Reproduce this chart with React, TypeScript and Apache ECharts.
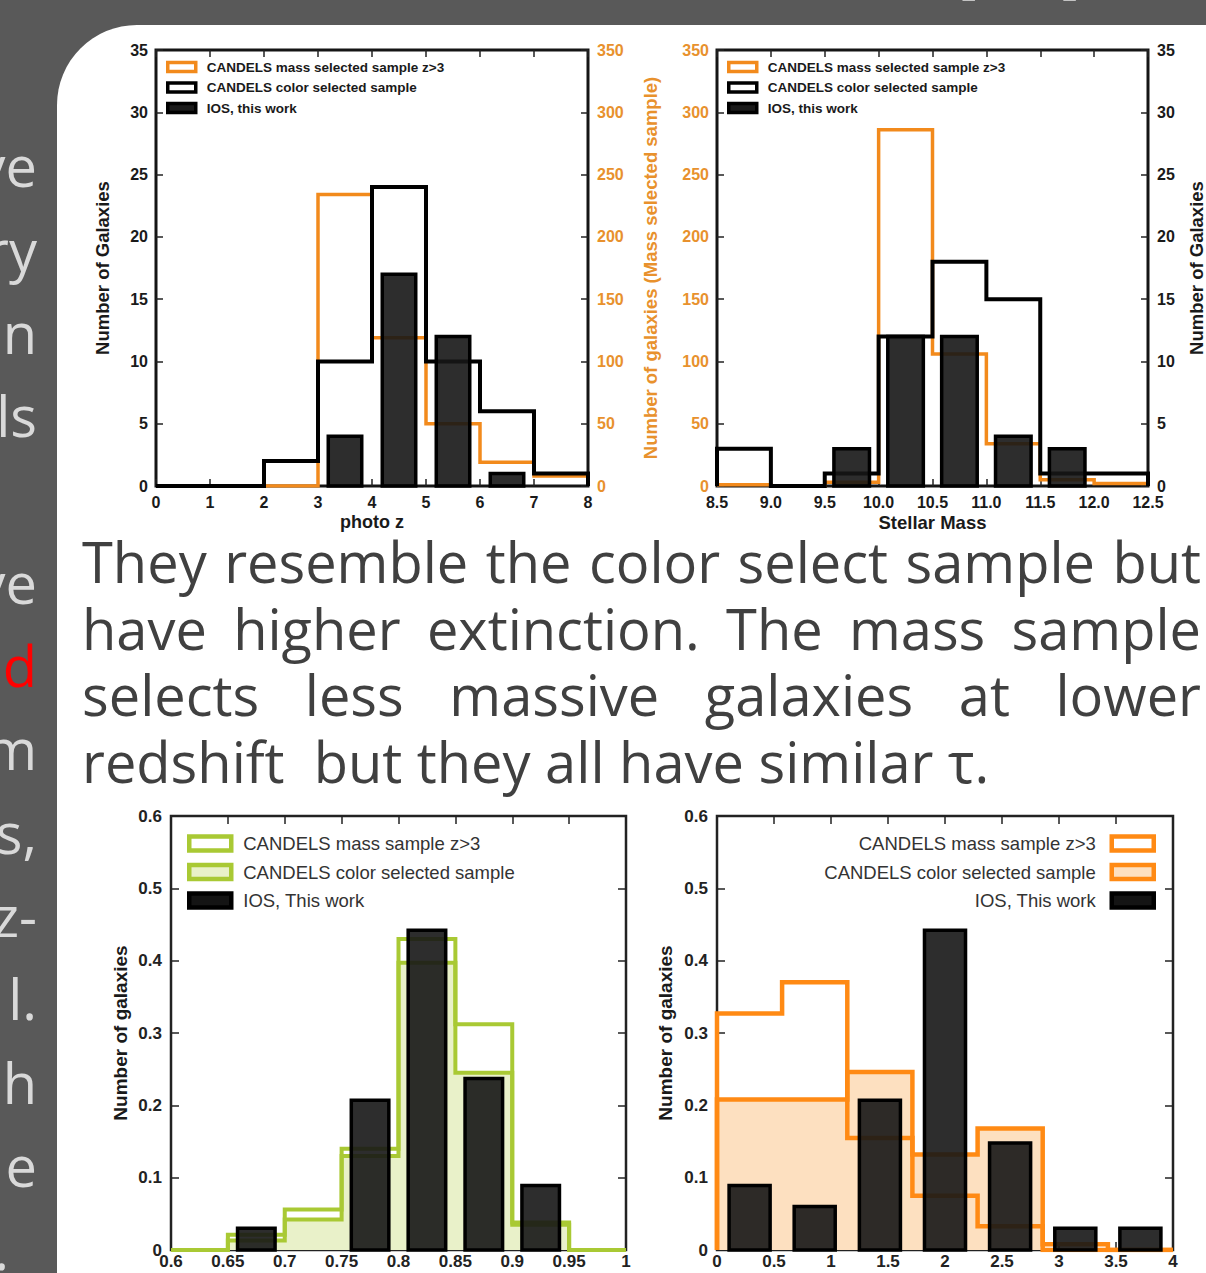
import React, { useEffect, useRef } from 'react';
import * as echarts from 'echarts';

// ---------------- data ----------------
// Top-left: photo z histograms
const photoZEdges = [0, 1, 2, 3, 4, 5, 6, 7, 8];
const photoZColorCounts = [0, 0, 2, 10, 24, 10, 6, 1];
const photoZMassEdges = [2, 3, 4, 5, 6, 7, 8];
const photoZMassCounts = [0, 234, 119, 50, 19, 8];
const photoZIosCenters = [3.5, 4.5, 5.5, 6.5];
const photoZIosCounts = [4, 17, 12, 1];

// Top-right: stellar mass histograms
const massEdges = [8.5, 9.0, 9.5, 10.0, 10.5, 11.0, 11.5, 12.0, 12.5];
const massMassCounts = [1, 0, 3, 286, 106, 34, 5, 2];
const massColorCounts = [3, 0, 1, 12, 18, 15, 1, 1];
const massIosCenters = [9.75, 10.25, 10.75, 11.25, 11.75];
const massIosCounts = [3, 12, 12, 4, 3];

// Bottom-left
const extEdges = [0.6, 0.65, 0.7, 0.75, 0.8, 0.85, 0.9, 0.95, 1.0];
const extMassFrac = [0, 0.021, 0.056, 0.14, 0.43, 0.312, 0.038, 0];
const extColorFrac = [0, 0.013, 0.042, 0.13, 0.397, 0.245, 0.035, 0];
const extIosCenters = [0.675, 0.775, 0.825, 0.875, 0.925];
const extIosFrac = [0.03, 0.207, 0.442, 0.237, 0.089];

// Bottom-right
const tauEdges = [0, 0.571, 1.143, 1.714, 2.286, 2.857, 3.429, 4.0];
const tauMassFrac = [0.327, 0.37, 0.155, 0.075, 0.033, 0.008, 0];
const tauColorFrac = [0.208, 0.208, 0.246, 0.132, 0.168, 0, 0];
const tauIosCenters = [0.286, 0.857, 1.429, 2.0, 2.571, 3.143, 3.714];
const tauIosFrac = [0.089, 0.06, 0.207, 0.442, 0.148, 0.03, 0.03];

// Series names
const topNames = ['CANDELS mass selected sample z>3', 'CANDELS color selected sample', 'IOS, this work'];
const botNames = ['CANDELS mass sample z>3', 'CANDELS color selected sample', 'IOS, This work'];

// Slide texts
const paragraphLines = [
  'They resemble the color select sample but',
  'have higher extinction. The mass sample',
  'selects less massive galaxies at lower',
  'redshift  but they all have similar τ.',
];
const paragraphJustified = [true, true, true, false];
const sideFragments = ['ve', 'ry', 'n', 'ls', '', 've', 'd', 'm', 's,', 'z-', 'l.', 'h', 'e', '.'];
const sideFragmentRed = [false, false, false, false, false, false, true, false, false, false, false, false, false, false];
const titleFragments = ['[', ',', ']'];

// ---------------- styling constants ----------------
const W = 1206;
const H = 1273;
const FONT = '"Liberation Sans", Arial, sans-serif';
const SLIDE_FONT = '"Open Sans", sans-serif';
const DARK = '#1a1a1a';
const ORANGE = '#f28a1c';
const ORANGE_TXT = '#e8912d';
const GREEN = '#a9c934';
const GREEN_FILL = '#e9f1c9';
const ORANGE2 = '#ff8a14';
const ORANGE2_FILL = '#fde0c0';
const BAR_FILL = 'rgba(22,22,22,0.9)';

function stepData(edges: number[], vals: number[]) {
  const pts: number[][] = [[edges[0], 0]];
  vals.forEach((v, i) => pts.push([edges[i], v]));
  pts.push([edges[edges.length - 1], vals[vals.length - 1]]);
  pts.push([edges[edges.length - 1], 0]);
  return pts;
}

function barRender(w: number, lw: number) {
  return (params: any, api: any) => {
    const c = api.value(0);
    const v = api.value(1);
    const tl = api.coord([c - w / 2, v]);
    const br = api.coord([c + w / 2, 0]);
    return {
      type: 'rect',
      shape: { x: tl[0], y: tl[1], width: br[0] - tl[0], height: br[1] - tl[1] },
      style: { fill: BAR_FILL, stroke: '#000', lineWidth: lw },
    };
  };
}

function axisCommon(grid: number, min: number, max: number, interval: number, pos: string, o: any) {
  return {
    type: 'value',
    gridIndex: grid,
    min,
    max,
    interval,
    position: pos,
    axisLine: { show: false, onZero: false },
    splitLine: { show: false },
    axisTick: { show: true, inside: true, length: o.tickLen, lineStyle: { color: '#222', width: 1.5 } },
    axisLabel: o.label
      ? { show: true, margin: o.margin, fontFamily: FONT, fontWeight: 'bold', fontSize: o.fontSize, color: o.color || DARK, formatter: o.formatter, showMinLabel: true, showMaxLabel: true }
      : { show: false },
    name: o.name,
    nameLocation: 'middle',
    nameGap: o.nameGap,
    nameTextStyle: { fontFamily: FONT, fontWeight: 'bold', fontSize: o.nameSize, color: o.nameColor || DARK },
  };
}

function lineSeries(name: string, xi: number, yi: number, data: number[][], color: string, width: number, z: number, fill?: string) {
  const s: any = {
    type: 'line',
    name,
    xAxisIndex: xi,
    yAxisIndex: yi,
    step: 'end',
    symbol: 'none',
    data,
    z,
    silent: true,
    lineStyle: { color, width, join: 'miter' },
    itemStyle: { color },
  };
  if (fill) s.areaStyle = { color: fill, opacity: 1 };
  return s;
}

function barSeries(name: string, xi: number, yi: number, centers: number[], vals: number[], w: number, lw: number) {
  return {
    type: 'custom',
    name,
    xAxisIndex: xi,
    yAxisIndex: yi,
    coordinateSystem: 'cartesian2d',
    encode: { x: 0, y: 1 },
    data: centers.map((c, i) => [c, vals[i]]),
    renderItem: barRender(w, lw),
    itemStyle: { color: BAR_FILL },
    z: 5,
    silent: true,
  };
}

function textEl(text: string, x: number, baseline: number, size: number, fill: string, align: string) {
  return {
    type: 'text',
    z: 10,
    silent: true,
    style: {
      text,
      x,
      y: baseline - size * 0.388,
      font: `${size}px ${SLIDE_FONT}`,
      fill,
      align,
      verticalAlign: 'middle',
    },
  };
}

function slideGraphics() {
  const els: any[] = [];
  els.push({ type: 'rect', z: -20, silent: true, shape: { x: 0, y: 0, width: W, height: H }, style: { fill: '#595959' } });
  els.push({ type: 'rect', z: -19, silent: true, shape: { x: 57, y: 25, width: W, height: H, r: [80, 0, 0, 0] }, style: { fill: '#ffffff' } });

  const size = 56;
  const ctx = document.createElement('canvas').getContext('2d') as CanvasRenderingContext2D;
  ctx.font = `${size}px ${SLIDE_FONT}`;
  const x0 = 82;
  const x1 = 1201;
  paragraphLines.forEach((line, i) => {
    const baseline = 583 + i * 66.5;
    if (paragraphJustified[i]) {
      const words = line.split(' ');
      const widths = words.map((w) => ctx.measureText(w).width);
      const total = widths.reduce((a, b) => a + b, 0);
      const gap = (x1 - x0 - total) / (words.length - 1);
      let x = x0;
      words.forEach((w, j) => {
        els.push(textEl(w, x, baseline, size, '#404040', 'left'));
        x += widths[j] + gap;
      });
    } else {
      els.push(textEl(line, x0, baseline, size, '#404040', 'left'));
    }
  });

  sideFragments.forEach((t, i) => {
    if (!t) return;
    const baseline = 187 + i * 83.3;
    const right = t === '.' && i === sideFragments.length - 1 ? 9 : 37;
    els.push(textEl(t, right, baseline, size, sideFragmentRed[i] ? '#ff0000' : '#d9d9d9', 'right'));
  });

  const tx = [958, 1009, 1062];
  titleFragments.forEach((t, i) => {
    els.push(textEl(t, tx[i], -8.5, size, '#e0e0e0', 'left'));
  });
  return els;
}

function buildOption() {
  const topTick = 7;
  const botTick = 8;
  const xAxes = [
    axisCommon(0, 0, 8, 1, 'bottom', { tickLen: topTick, label: true, margin: 8, fontSize: 16, formatter: (v: number) => String(v), name: 'photo z', nameGap: 27, nameSize: 18 }),
    axisCommon(0, 0, 8, 1, 'top', { tickLen: topTick, label: false }),
    axisCommon(1, 8.5, 12.5, 0.5, 'bottom', { tickLen: topTick, label: true, margin: 8, fontSize: 16, formatter: (v: number) => v.toFixed(1), name: 'Stellar Mass', nameGap: 27, nameSize: 18.5 }),
    axisCommon(1, 8.5, 12.5, 0.5, 'top', { tickLen: topTick, label: false }),
    axisCommon(2, 0.6, 1.0, 0.05, 'bottom', { tickLen: botTick, label: true, margin: 3, fontSize: 17, color: '#222', formatter: (v: number) => String(+v.toFixed(2)) }),
    axisCommon(2, 0.6, 1.0, 0.05, 'top', { tickLen: botTick, label: false }),
    axisCommon(3, 0, 4, 0.5, 'bottom', { tickLen: botTick, label: true, margin: 3, fontSize: 17, color: '#222', formatter: (v: number) => String(+v.toFixed(1)) }),
    axisCommon(3, 0, 4, 0.5, 'top', { tickLen: botTick, label: false }),
  ];
  const yAxes = [
    axisCommon(0, 0, 35, 5, 'left', { tickLen: topTick, label: true, margin: 8, fontSize: 16, name: 'Number of Galaxies', nameGap: 44, nameSize: 18.5 }),
    axisCommon(0, 0, 350, 50, 'right', { tickLen: topTick, label: true, margin: 9, fontSize: 16, color: ORANGE_TXT, name: 'Number of galaxies (Mass selected sample)', nameGap: 53, nameSize: 18.5, nameColor: ORANGE_TXT }),
    axisCommon(1, 0, 350, 50, 'left', { tickLen: topTick, label: true, margin: 8, fontSize: 16, color: ORANGE_TXT }),
    axisCommon(1, 0, 35, 5, 'right', { tickLen: topTick, label: true, margin: 9, fontSize: 16, name: 'Number of Galaxies', nameGap: 39, nameSize: 18.5 }),
    axisCommon(2, 0, 0.6, 0.1, 'left', { tickLen: botTick, label: true, margin: 9, fontSize: 17, color: '#222', formatter: (v: number) => String(+v.toFixed(1)), name: 'Number of galaxies', nameGap: 41, nameSize: 19 }),
    axisCommon(2, 0, 0.6, 0.1, 'right', { tickLen: botTick, label: false }),
    axisCommon(3, 0, 0.6, 0.1, 'left', { tickLen: botTick, label: true, margin: 9, fontSize: 17, color: '#222', formatter: (v: number) => String(+v.toFixed(1)), name: 'Number of galaxies', nameGap: 42, nameSize: 19 }),
    axisCommon(3, 0, 0.6, 0.1, 'right', { tickLen: botTick, label: false }),
  ];

  const gridBase = { show: true, backgroundColor: '#ffffff', outerBoundsMode: 'none', containLabel: false };
  const grids = [
    { ...gridBase, left: 156, top: 50, width: 432, height: 436, borderColor: '#151515', borderWidth: 3 },
    { ...gridBase, left: 717, top: 50, width: 431, height: 436, borderColor: '#151515', borderWidth: 3 },
    { ...gridBase, left: 171, top: 816, width: 455, height: 434, borderColor: '#222', borderWidth: 2.5 },
    { ...gridBase, left: 717, top: 816, width: 456, height: 434, borderColor: '#222', borderWidth: 2.5 },
  ];

  const topLegendText = { fontFamily: FONT, fontWeight: 'bold', fontSize: 13.5, color: DARK, padding: [0, 0, 0, 6] };
  const topLegendData = [
    { name: topNames[0], icon: 'rect', itemStyle: { color: '#ffffff', borderColor: ORANGE, borderWidth: 3.5 } },
    { name: topNames[1], icon: 'rect', itemStyle: { color: '#ffffff', borderColor: '#000000', borderWidth: 3.5 } },
    { name: topNames[2], icon: 'rect', itemStyle: { color: '#1a1a1a', borderColor: '#000000', borderWidth: 3.5 } },
  ];
  const botLegendText = { fontFamily: FONT, fontSize: 18.5, color: '#333333' };
  const legends = [
    { left: 166, top: 60, orient: 'vertical', padding: 0, itemWidth: 28, itemHeight: 9, itemGap: 6.5, selectedMode: false, textStyle: topLegendText, data: topLegendData },
    { left: 727, top: 60, orient: 'vertical', padding: 0, itemWidth: 28, itemHeight: 9, itemGap: 6.5, selectedMode: false, textStyle: topLegendText, data: topLegendData },
    {
      left: 187, top: 834, orient: 'vertical', padding: 0, itemWidth: 42, itemHeight: 14, itemGap: 9.5, selectedMode: false,
      textStyle: { ...botLegendText, padding: [0, 0, 0, 7] },
      data: [
        { name: botNames[0], icon: 'rect', itemStyle: { color: '#ffffff', borderColor: GREEN, borderWidth: 4.5 } },
        { name: botNames[1], icon: 'rect', itemStyle: { color: GREEN_FILL, borderColor: GREEN, borderWidth: 4.5 } },
        { name: botNames[2], icon: 'rect', itemStyle: { color: '#141414', borderColor: '#000000', borderWidth: 4.5 } },
      ],
    },
    {
      right: 50, top: 834, orient: 'vertical', align: 'right', padding: 0, itemWidth: 42, itemHeight: 14, itemGap: 9.5, selectedMode: false,
      textStyle: { ...botLegendText, padding: [0, 11, 0, 0] },
      data: [
        { name: botNames[0], icon: 'rect', itemStyle: { color: '#ffffff', borderColor: ORANGE2, borderWidth: 4.5 } },
        { name: botNames[1], icon: 'rect', itemStyle: { color: ORANGE2_FILL, borderColor: ORANGE2, borderWidth: 4.5 } },
        { name: botNames[2], icon: 'rect', itemStyle: { color: '#141414', borderColor: '#000000', borderWidth: 4.5 } },
      ],
    },
  ];

  const series = [
    // top-left
    lineSeries(topNames[0], 0, 1, stepData(photoZMassEdges, photoZMassCounts), ORANGE, 3.5, 2),
    lineSeries(topNames[1], 0, 0, stepData(photoZEdges, photoZColorCounts), '#000000', 4, 3),
    barSeries(topNames[2], 0, 0, photoZIosCenters, photoZIosCounts, 0.62, 3.5),
    // top-right
    lineSeries(topNames[0], 2, 2, stepData(massEdges, massMassCounts), ORANGE, 3.5, 2),
    lineSeries(topNames[1], 2, 3, stepData(massEdges, massColorCounts), '#000000', 4, 3),
    barSeries(topNames[2], 2, 3, massIosCenters, massIosCounts, 0.33, 3.5),
    // bottom-left
    lineSeries(botNames[1], 4, 4, stepData(extEdges, extColorFrac), GREEN, 4, 2, GREEN_FILL),
    lineSeries(botNames[0], 4, 4, stepData(extEdges, extMassFrac), GREEN, 4, 3),
    barSeries(botNames[2], 4, 4, extIosCenters, extIosFrac, 0.033, 3.5),
    // bottom-right
    lineSeries(botNames[1], 6, 6, stepData(tauEdges, tauColorFrac), ORANGE2, 4.5, 2, ORANGE2_FILL),
    lineSeries(botNames[0], 6, 6, stepData(tauEdges, tauMassFrac), ORANGE2, 4.5, 3),
    barSeries(botNames[2], 6, 6, tauIosCenters, tauIosFrac, 0.36, 3.5),
  ];

  return {
    animation: false,
    backgroundColor: '#595959',
    graphic: { elements: slideGraphics() },
    grid: grids,
    xAxis: xAxes,
    yAxis: yAxes,
    legend: legends,
    series,
  };
}

export default function App() {
  const ref = useRef<HTMLDivElement>(null);
  useEffect(() => {
    if (!ref.current) return;
    const chart = echarts.init(ref.current, null, { renderer: 'svg', width: W, height: H });
    chart.setOption(buildOption() as any);
    return () => chart.dispose();
  }, []);
  return <div ref={ref} style={{ position: 'absolute', left: 0, top: 0, width: W, height: H }} />;
}
